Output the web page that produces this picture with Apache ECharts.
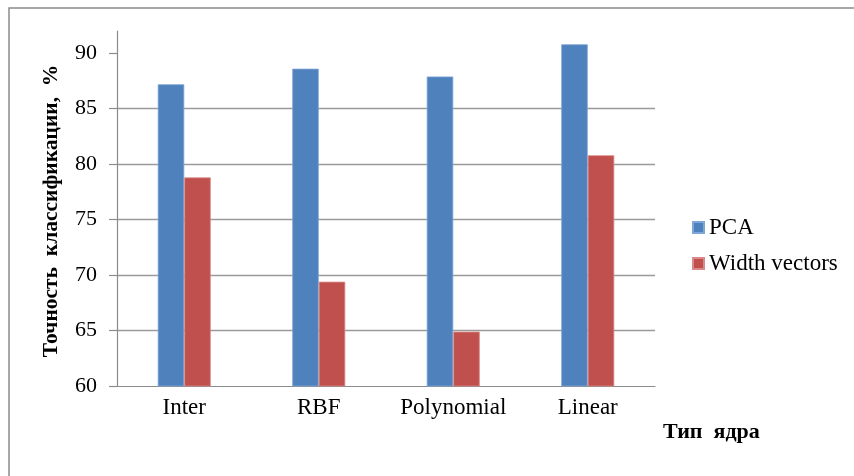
<!DOCTYPE html>
<html>
<head>
<meta charset="utf-8">
<script src="https://cdn.jsdelivr.net/npm/echarts@6/dist/echarts.min.js"></script>
<style>
  html, body { margin: 0; padding: 0; background: #fff; }
  #chart { width: 854px; height: 476px; }
</style>
</head>
<body>
<div id="chart"></div>
<script>
// Kernel types and classification accuracy (%) for the two feature sets
const categories = ['Inter', 'RBF', 'Polynomial', 'Linear'];
const pcaValues = [87.2, 88.6, 87.9, 90.8];
const widthVectorValues = [78.8, 69.4, 64.9, 80.8];
const yTicks = [60, 65, 70, 75, 80, 85, 90];

const serif = 'Liberation Serif, Times New Roman, serif';

const chart = echarts.init(document.getElementById('chart'));
chart.setOption({
  backgroundColor: '#ffffff',
  animation: false,
  textStyle: { fontFamily: serif, color: '#000' },
  grid: { left: 117, right: 199, top: 31, bottom: 90 },
  legend: {
    orient: 'vertical',
    left: 687,
    top: 211,
    itemWidth: 11,
    itemHeight: 11,
    itemGap: 13,
    icon: 'rect',
    textStyle: { fontFamily: serif, fontSize: 23, color: '#000' },
    data: ['PCA', 'Width vectors']
  },
  xAxis: {
    type: 'category',
    data: categories,
    axisLine: { lineStyle: { color: '#8c8c8c', width: 1.2 } },
    axisTick: { show: false },
    axisLabel: { interval: 0, fontFamily: serif, fontSize: 23, color: '#000', margin: 10 }
  },
  yAxis: {
    type: 'value',
    min: 60,
    max: 92,
    interval: 5,
    axisLine: { show: true, lineStyle: { color: '#8c8c8c', width: 1.2 } },
    axisTick: {
      show: true, inside: false, length: 8,
      customValues: yTicks,
      lineStyle: { color: '#8c8c8c', width: 1.2 }
    },
    axisLabel: {
      customValues: yTicks,
      fontFamily: serif, fontSize: 22, color: '#000', margin: 20
    },
    splitLine: {
      show: true, showMinLine: false, showMaxLine: false,
      lineStyle: { color: '#9a9a9a', width: 1.3 }
    }
  },
  series: [
    {
      name: 'PCA',
      type: 'bar',
      data: pcaValues,
      barWidth: 26.5,
      barGap: '0%',
      itemStyle: { color: '#4f81bd', borderColor: '#7ea6d6', borderWidth: 0.8 }
    },
    {
      name: 'Width vectors',
      type: 'bar',
      data: widthVectorValues,
      barWidth: 26.5,
      barGap: '0%',
      itemStyle: { color: '#c0504d', borderColor: '#d98a88', borderWidth: 0.8 }
    }
  ],
  graphic: [
    {
      type: 'rect',
      shape: { x: 9, y: 8, width: 900, height: 520 },
      style: { fill: 'none', stroke: '#8a8a8a', lineWidth: 1.5 },
      silent: true,
      z: -10
    },
    {
      type: 'text',
      x: 51,
      y: 211,
      rotation: Math.PI / 2,
      style: {
        text: 'Точность  классификации,  %',
        fontFamily: serif,
        fontSize: 21.5,
        fontWeight: 'bold',
        fill: '#000',
        textAlign: 'center',
        textVerticalAlign: 'middle'
      }
    },
    {
      type: 'text',
      x: 663,
      y: 432,
      style: {
        text: 'Тип  ядра',
        fontFamily: serif,
        fontSize: 22,
        fontWeight: 'bold',
        fill: '#000',
        textAlign: 'left',
        textVerticalAlign: 'middle'
      }
    }
  ]
});
</script>
</body>
</html>
